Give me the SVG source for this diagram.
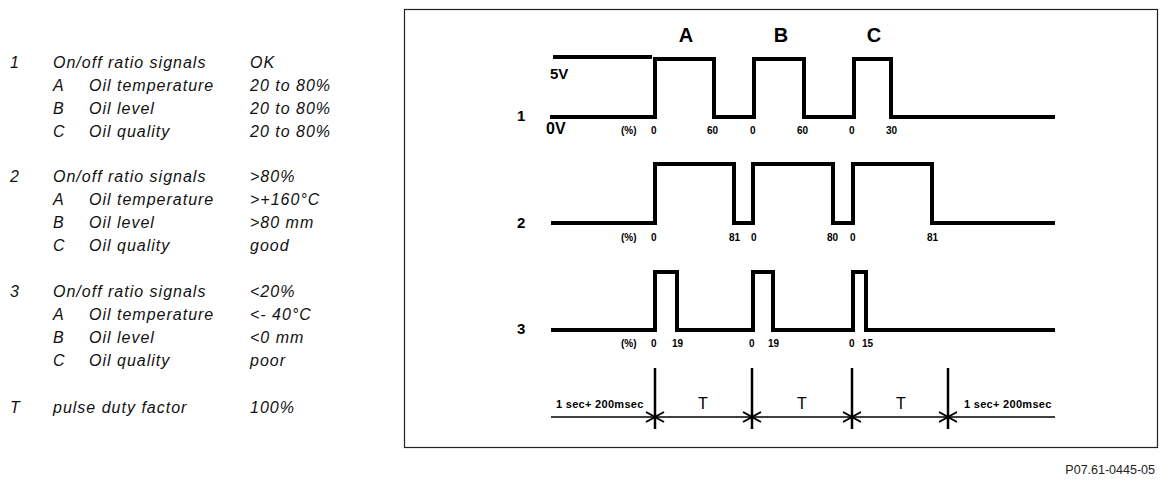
<svg xmlns="http://www.w3.org/2000/svg" width="1169" height="492" viewBox="0 0 1169 492">
<style>
.lg{font-family:"Liberation Sans",Arial,sans-serif;font-style:italic;font-size:16px;letter-spacing:1px;fill:#111}
.wave{fill:none;stroke:#000;stroke-width:4;stroke-linejoin:miter;stroke-linecap:butt}
.sm{font-family:"Liberation Sans",Arial,sans-serif;font-size:10px;font-weight:bold;fill:#000}
.rl{font-family:"Liberation Sans",Arial,sans-serif;font-size:15px;font-weight:bold;fill:#000}
.big{font-family:"Liberation Sans",Arial,sans-serif;font-size:20px;font-weight:bold;fill:#000;text-anchor:middle}
.tl{fill:none;stroke:#000;stroke-width:1.6}
.vm{stroke:#000;stroke-width:2.5}
.st{fill:none;stroke:#000;stroke-width:2}
.sec{font-family:"Liberation Sans",Arial,sans-serif;font-size:11px;font-weight:bold;letter-spacing:0.3px;fill:#000}
.T{font-family:"Liberation Sans",Arial,sans-serif;font-size:16px;fill:#000;text-anchor:middle}
</style>
<rect width="1169" height="492" fill="#fff"/>
<g id="legend">
<g id="legend-1">
<text class="lg" x="10" y="68">1</text><text class="lg" x="53" y="68">On/off ratio signals</text><text class="lg" x="250" y="68">OK</text>
<text class="lg" x="53" y="91">A</text><text class="lg" x="89" y="91">Oil temperature</text><text class="lg" x="250" y="91">20 to 80%</text>
<text class="lg" x="53" y="114">B</text><text class="lg" x="89" y="114">Oil level</text><text class="lg" x="250" y="114">20 to 80%</text>
<text class="lg" x="53" y="137">C</text><text class="lg" x="89" y="137">Oil quality</text><text class="lg" x="250" y="137">20 to 80%</text>
</g>
<g id="legend-2">
<text class="lg" x="10" y="182">2</text><text class="lg" x="53" y="182">On/off ratio signals</text><text class="lg" x="250" y="182">&gt;80%</text>
<text class="lg" x="53" y="205">A</text><text class="lg" x="89" y="205">Oil temperature</text><text class="lg" x="250" y="205">&gt;+160°C</text>
<text class="lg" x="53" y="228">B</text><text class="lg" x="89" y="228">Oil level</text><text class="lg" x="250" y="228">&gt;80 mm</text>
<text class="lg" x="53" y="251">C</text><text class="lg" x="89" y="251">Oil quality</text><text class="lg" x="250" y="251">good</text>
</g>
<g id="legend-3">
<text class="lg" x="10" y="297">3</text><text class="lg" x="53" y="297">On/off ratio signals</text><text class="lg" x="250" y="297">&lt;20%</text>
<text class="lg" x="53" y="320">A</text><text class="lg" x="89" y="320">Oil temperature</text><text class="lg" x="250" y="320">&lt;- 40°C</text>
<text class="lg" x="53" y="343">B</text><text class="lg" x="89" y="343">Oil level</text><text class="lg" x="250" y="343">&lt;0 mm</text>
<text class="lg" x="53" y="366">C</text><text class="lg" x="89" y="366">Oil quality</text><text class="lg" x="250" y="366">poor</text>
</g>
<g id="legend-T">
<text class="lg" x="10" y="413">T</text><text class="lg" x="53" y="413">pulse duty factor</text><text class="lg" x="250" y="413">100%</text>
</g>
</g>
<rect id="frame" x="404.5" y="9.5" width="753" height="438" fill="none" stroke="#222" stroke-width="1.2"/>
<g id="headers">
<text class="big" x="686" y="42">A</text>
<text class="big" x="781" y="42">B</text>
<text class="big" x="874" y="42">C</text>
</g>
<g id="row1">
<text class="rl" x="517" y="121">1</text>
<line x1="553" y1="57" x2="652" y2="57" class="wave"/>
<path class="wave" d="M550,117 H655 V59 H714 V117 H754 V59 H804 V117 H854 V59 H891 V117 H1055"/>
<text class="rl" x="550" y="79" style="font-size:15px">5V</text>
<text class="rl" x="546" y="134" style="font-size:16px">0V</text>
<text class="sm" x="621" y="134">(%)</text>
<text class="sm" x="651" y="134">0</text>
<text class="sm" x="707" y="134">60</text>
<text class="sm" x="750" y="134">0</text>
<text class="sm" x="797" y="134">60</text>
<text class="sm" x="849" y="134">0</text>
<text class="sm" x="886" y="134">30</text>
</g>
<g id="row2">
<text class="rl" x="517" y="228">2</text>
<path class="wave" d="M551,223 H655 V164 H734 V223 H753 V164 H833 V223 H853 V164 H932 V223 H1055"/>
<text class="sm" x="621" y="241">(%)</text>
<text class="sm" x="651" y="241">0</text>
<text class="sm" x="729" y="241">81</text>
<text class="sm" x="751" y="241">0</text>
<text class="sm" x="827" y="241">80</text>
<text class="sm" x="850" y="241">0</text>
<text class="sm" x="927" y="241">81</text>
</g>
<g id="row3">
<text class="rl" x="517" y="334">3</text>
<path class="wave" d="M551,330 H655 V272 H677 V330 H753 V272 H773 V330 H853 V272 H866 V330 H1055"/>
<text class="sm" x="621" y="347">(%)</text>
<text class="sm" x="651" y="347">0</text>
<text class="sm" x="672" y="347">19</text>
<text class="sm" x="749" y="347">0</text>
<text class="sm" x="768" y="347">19</text>
<text class="sm" x="849" y="347">0</text>
<text class="sm" x="862" y="347">15</text>
</g>
<g id="connectors">
<line class="tl" x1="551" y1="417" x2="1055" y2="417"/>
<line class="vm" x1="655" y1="368" x2="655" y2="429"/>
<line class="vm" x1="752" y1="368" x2="752" y2="429"/>
<line class="vm" x1="852" y1="368" x2="852" y2="429"/>
<line class="vm" x1="948" y1="368" x2="948" y2="429"/>
<path class="st" d="M646,412 L655,417 L646,422 M664,412 L655,417 L664,422"/>
<path class="st" d="M743,412 L752,417 L743,422 M761,412 L752,417 L761,422"/>
<path class="st" d="M843,412 L852,417 L843,422 M861,412 L852,417 L861,422"/>
<path class="st" d="M939,412 L948,417 L939,422 M957,412 L948,417 L957,422"/>
</g>
<g id="timeline-labels">
<text class="sec" x="556" y="408">1 sec+ 200msec</text>
<text class="sec" x="964" y="408">1 sec+ 200msec</text>
<text class="T" x="703" y="409">T</text>
<text class="T" x="802" y="409">T</text>
<text class="T" x="901" y="409">T</text>
</g>
<text id="code" x="1155" y="474" text-anchor="end" style="font-family:'Liberation Sans',Arial,sans-serif;font-size:12.5px;fill:#222">P07.61-0445-05</text>
</svg>
